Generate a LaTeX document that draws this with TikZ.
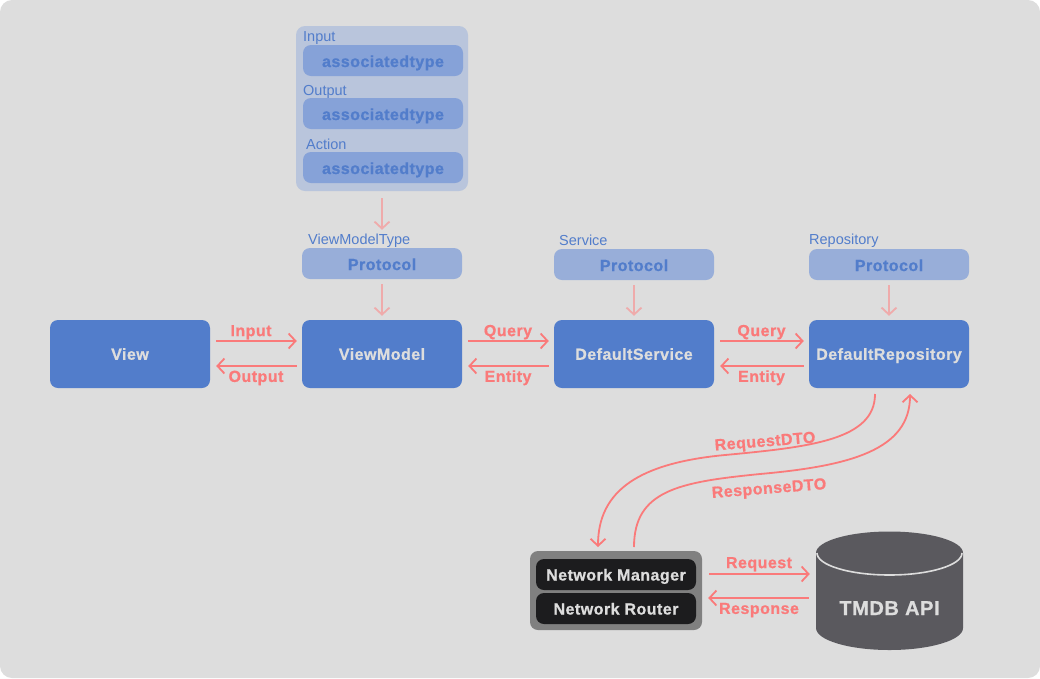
\documentclass[tikz,border=0pt]{standalone}
\usepackage{fontspec}
\setmainfont[BoldFeatures={FakeBold=0.8,LetterSpace=3}]{Liberation Sans}
\usepackage{xcolor}
\usetikzlibrary{positioning, arrows.meta, shapes.geometric}
\definecolor{pagegray}{HTML}{DDDDDD}
\definecolor{mainblue}{HTML}{527DCB}
\definecolor{protoblue}{HTML}{98AED9}
\definecolor{assocblue}{HTML}{86A2D8}
\definecolor{groupblue}{HTML}{B9C5DC}
\definecolor{flowred}{HTML}{FA7A7A}
\definecolor{fadedred}{HTML}{EFABAB}
\definecolor{netgray}{HTML}{808080}
\definecolor{netblack}{HTML}{1C1C1E}
\definecolor{dbgray}{HTML}{5A595E}
\begin{document}
\begin{tikzpicture}[x=1pt, y=-1pt, font=\bfseries\fontsize{16}{19}\selectfont,
    layerbox/.style={fill=mainblue, text=pagegray, rounded corners=8pt, minimum width=160pt, minimum height=68pt, inner sep=0pt, text height=11.5pt, text depth=0pt},
    protobox/.style={fill=protoblue, text=mainblue, rounded corners=8pt, minimum width=160pt, minimum height=31pt, inner sep=0pt, text height=13pt, text depth=0pt},
    assocbox/.style={fill=assocblue, text=mainblue, rounded corners=8pt, minimum width=160pt, minimum height=31pt, inner sep=0pt, text height=13pt, text depth=0pt},
    netbox/.style={fill=netblack, text=pagegray, rounded corners=8pt, minimum width=160pt, minimum height=31pt, inner sep=0pt, text height=12pt, text depth=0pt},
    typelabel/.style={font=\fontsize{14.5}{17}\selectfont, text=mainblue, inner sep=0pt, anchor=west, text height=10pt, text depth=0pt},
    flow/.style={draw=flowred, line width=1.8pt, -{Straight Barb[length=7pt, width=15pt, line width=1.8pt]}},
    faded/.style={draw=fadedred, line width=1.8pt, -{Straight Barb[length=7pt, width=15pt, line width=1.8pt]}},
    flowlabel/.style={text=flowred, inner sep=0pt, text height=11pt, text depth=0pt}]
  \useasboundingbox (0,0) rectangle (1040,678);
  \fill[pagegray, rounded corners=12pt] (0,0) rectangle (1040,678);

  % main row
  \node[layerbox] (view) at (130,354) {View};
  \node[layerbox] (viewmodel) at (382,354) {ViewModel};
  \node[layerbox] (service) at (634,354) {DefaultService};
  \node[layerbox] (repository) at (889,354) {DefaultRepository};

  % protocols above the row
  \node[protobox] (vmproto) at (382,263.5) {Protocol};
  \node[protobox] (svcproto) at (634,264.5) {Protocol};
  \node[protobox] (repoproto) at (889,264.5) {Protocol};
  \node[typelabel] (vmname) at (308,239) {ViewModelType};
  \node[typelabel] (svcname) at (559,240) {Service};
  \node[typelabel] (reponame) at (809,239) {Repository};

  % associated types
  \node[fill=groupblue, rounded corners=9pt, minimum width=172pt, minimum height=165pt, inner sep=0pt] (group) at (382,108.5) {};
  \foreach \n/\y in {associn/60.5, assocout/113.5, assocact/167.5}{
    \node[assocbox] (\n) at (383,\y) {associatedtype};
  }
  \node[typelabel] (inname) at (303,36) {Input};
  \node[typelabel] (outname) at (303,90) {Output};
  \node[typelabel] (actname) at (306,144) {Action};

  \draw[faded, shorten <=7pt, shorten >=18pt] (group.south) -- (vmproto.north);
  \foreach \a/\b in {vmproto/viewmodel, svcproto/service, repoproto/repository}{
    \draw[faded, shorten <=5pt, shorten >=4pt] (\a.south) -- (\b.north);
  }

  % row connectors
  \foreach \a/\b/\t/\u/\s in {view/viewmodel/Input/Output/-5, viewmodel/service/Query/Entity/0, service/repository/Query/Entity/0}{
    \draw[flow, shorten <=6pt, shorten >=5pt] ([yshift=13pt]\a.east) -- ([yshift=13pt]\b.west)
      node[flowlabel, midway, above=4pt, xshift=\s pt] {\t};
    \draw[flow, shorten <=5pt, shorten >=6pt] ([yshift=-12pt]\b.west) -- ([yshift=-12pt]\a.east)
      node[flowlabel, midway, below=4pt] {\u};
  }

  % network side
  \node[fill=netgray, rounded corners=8pt, minimum width=172pt, minimum height=79pt, inner sep=0pt] (network) at (616,590.5) {};
  \node[netbox] (manager) at (616,574.5) {Network Manager};
  \node[netbox] (router) at (616,608.5) {Network Router};

  \fill[dbgray] (816,553) arc[start angle=180, end angle=360, x radius=73.5, y radius=21.5]
    -- (963,628) arc[start angle=0, end angle=180, x radius=73.5, y radius=22] -- cycle;
  \draw[pagegray, line width=1.6pt] (817,553) arc[start angle=180, end angle=0, x radius=72.5, y radius=22];
  \node[minimum width=147pt, minimum height=118pt, inner sep=0pt] (tmdb) at (889.5,591) {};
  \node[text=pagegray, font=\bfseries\fontsize{20}{23}\selectfont, inner sep=0pt, text height=14pt, text depth=0pt] (tmdbname) at (889.5,608) {TMDB API};

  \draw[flow, shorten <=7pt, shorten >=6pt] (network.east |- 0,574) -- (tmdb.west |- 0,574)
    node[flowlabel, midway, above=5pt] {Request};
  \draw[flow, shorten <=7pt, shorten >=6pt] (tmdb.west |- 0,598) -- (network.east |- 0,598)
    node[flowlabel, midway, below=4pt] {Response};

  % curved connectors
  \coordinate (reqstart) at (875,394);
  \coordinate (reqend) at (598,547);
  \coordinate (resstart) at (634,547);
  \coordinate (resend) at (910,394);
  \draw[flow] (reqstart) .. controls (875,440) and (810,447) .. (725,455) .. controls (640,463) and (598,490) .. (reqend);
  \draw[flow] (resstart) .. controls (634,490) and (680,482) .. (760,474) .. controls (850,466) and (910,450) .. (resend);
  \node[flowlabel, rotate=4.5] (reqname) at (765,441) {RequestDTO};
  \node[flowlabel, rotate=4.5] (resname) at (769,488) {ResponseDTO};
\end{tikzpicture}
\end{document}
